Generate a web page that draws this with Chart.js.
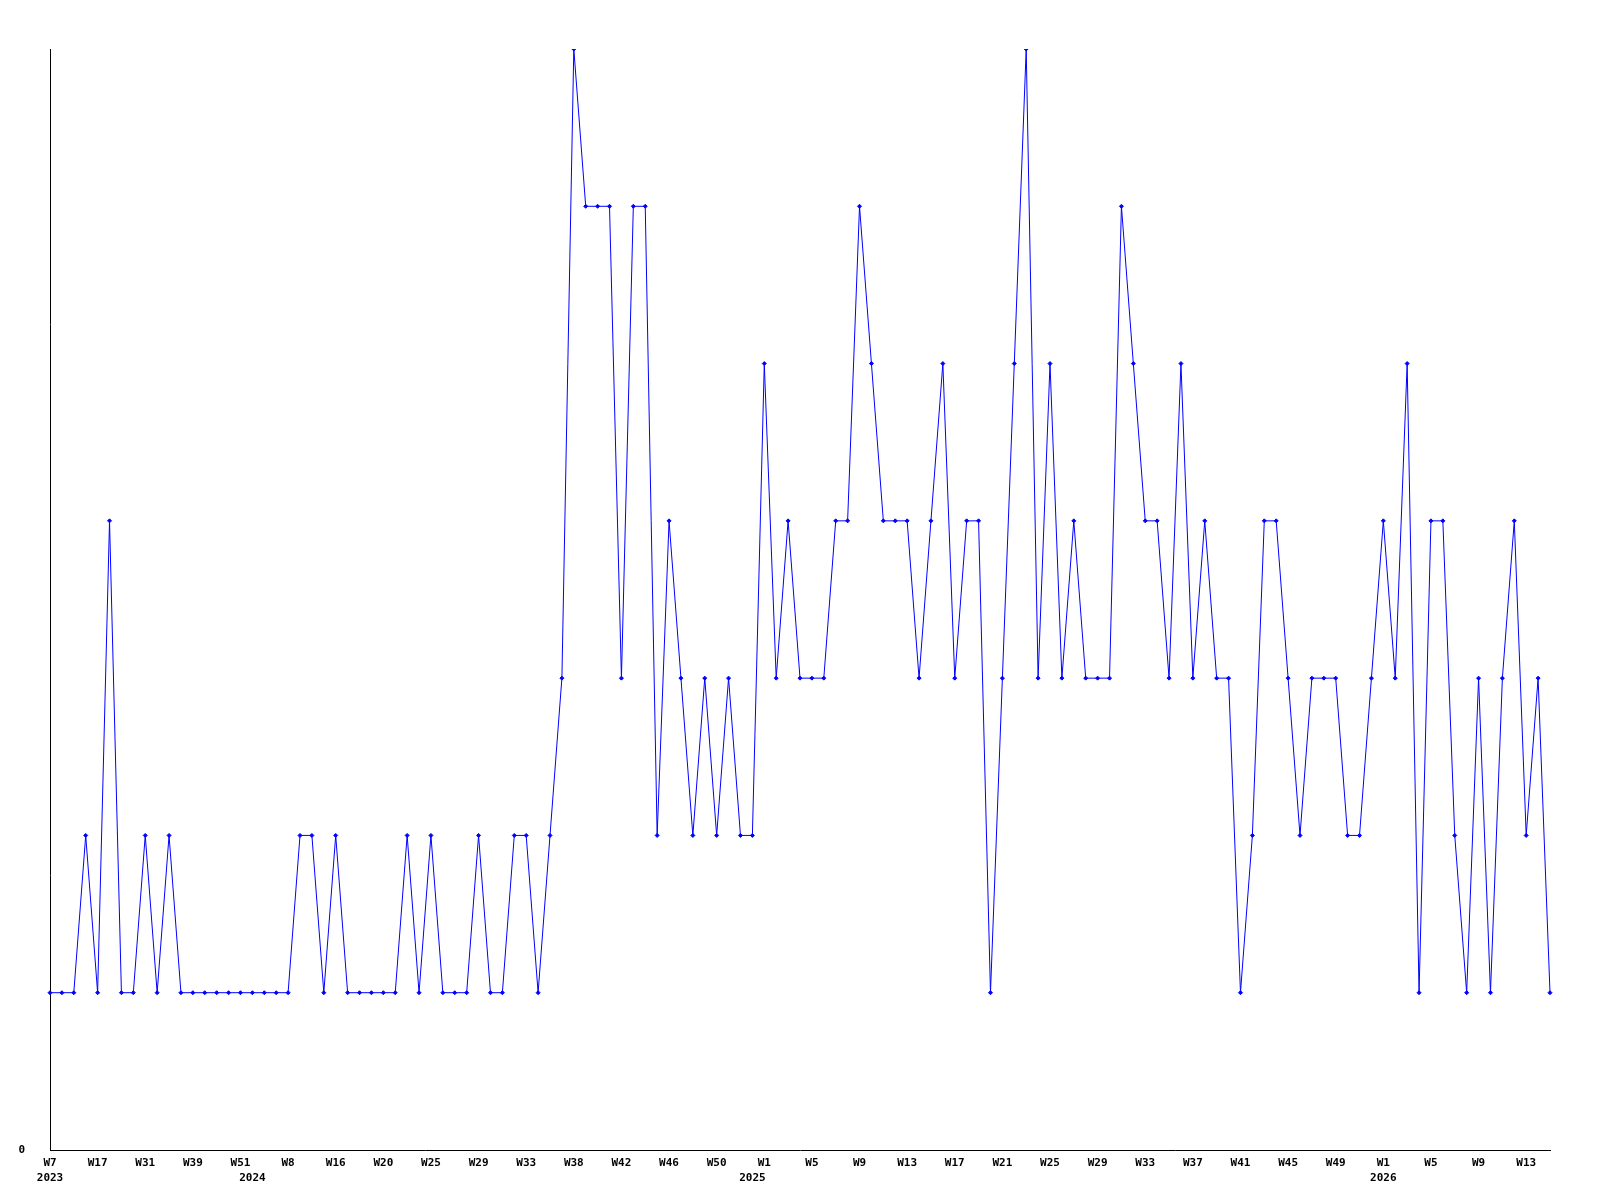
<!DOCTYPE html>
<html>
<head>
<meta charset="utf-8">
<script src="https://cdn.jsdelivr.net/npm/chart.js@4/dist/chart.umd.min.js"></script>
<style>
    html, body { margin: 0; padding: 0; background: #fff; }
    #wrap { width: 1600px; height: 1200px; position: relative; }
</style>
</head>
<body>
<div id="wrap"><canvas id="weeklyChart"></canvas></div>
<script>
// week of each point (only every 4th one is printed on the axis)
const weeks = [
    'W7', 'W9', 'W12', 'W14', 'W17', 'W19', 'W22', 'W26', 'W31', 'W33', 'W35', 'W37', 'W39', 'W42', 'W45', 'W48',
    'W51', 'W1', 'W3', 'W5', 'W8', 'W10', 'W12', 'W14', 'W16', 'W17', 'W18', 'W19', 'W20', 'W21', 'W22', 'W23',
    'W25', 'W26', 'W27', 'W28', 'W29', 'W30', 'W31', 'W32', 'W33', 'W34', 'W35', 'W37', 'W38', 'W39', 'W40', 'W41',
    'W42', 'W43', 'W44', 'W45', 'W46', 'W47', 'W48', 'W49', 'W50', 'W51', 'W52', 'W52', 'W1', 'W2', 'W3', 'W4',
    'W5', 'W6', 'W7', 'W8', 'W9', 'W10', 'W11', 'W12', 'W13', 'W14', 'W15', 'W16', 'W17', 'W18', 'W19', 'W20',
    'W21', 'W22', 'W23', 'W24', 'W25', 'W26', 'W27', 'W28', 'W29', 'W30', 'W31', 'W32', 'W33', 'W34', 'W35', 'W36',
    'W37', 'W38', 'W39', 'W40', 'W41', 'W42', 'W43', 'W44', 'W45', 'W46', 'W47', 'W48', 'W49', 'W50', 'W51', 'W52',
    'W1', 'W2', 'W3', 'W4', 'W5', 'W6', 'W7', 'W8', 'W9', 'W10', 'W11', 'W12', 'W13', 'W14', 'W15'
];

// point index under which each year name is printed
const yearTickIndex = [0, 17, 59, 112];
const yearNames = ['2023', '2024', '2025', '2026'];

const counts = [
    1, 1, 1, 2, 1, 4, 1, 1, 2, 1, 2, 1, 1, 1, 1, 1,
    1, 1, 1, 1, 1, 2, 2, 1, 2, 1, 1, 1, 1, 1, 2, 1,
    2, 1, 1, 1, 2, 1, 1, 2, 2, 1, 2, 3, 7, 6, 6, 6,
    3, 6, 6, 2, 4, 3, 2, 3, 2, 3, 2, 2, 5, 3, 4, 3,
    3, 3, 4, 4, 6, 5, 4, 4, 4, 3, 4, 5, 3, 4, 4, 1,
    3, 5, 7, 3, 5, 3, 4, 3, 3, 3, 6, 5, 4, 4, 3, 5,
    3, 4, 3, 3, 1, 2, 4, 4, 3, 2, 3, 3, 3, 2, 2, 3,
    4, 3, 5, 1, 4, 4, 2, 1, 3, 1, 3, 4, 2, 3, 1
];

const yMax = 7;
const tickEvery = 4;

document.addEventListener('DOMContentLoaded', () => {
    const ctx = document.getElementById('weeklyChart');
    const axisFont = { family: '"DejaVu Sans Mono", monospace', size: 11, weight: 'bold', lineHeight: 1.35 };

    new Chart(ctx, {
        type: 'line',
        data: {
            labels: weeks,
            datasets: [{
                data: counts,
                borderColor: '#0000ff',
                backgroundColor: '#0000ff',
                borderWidth: 1,
                tension: 0,
                pointStyle: 'rectRot',
                pointRadius: 2,
                pointBorderWidth: 1,
                fill: false
            }]
        },
        options: {
            responsive: true,
            maintainAspectRatio: false,
            animation: false,
            layout: { padding: { top: 49, right: 50, left: 0, bottom: 0 } },
            plugins: {
                legend: { display: false },
                tooltip: { enabled: false }
            },
            scales: {
                x: {
                    offset: false,
                    grid: { display: false },
                    border: { display: true, color: '#000', width: 1 },
                    afterFit: scale => { scale.height = 50; },
                    ticks: {
                        autoSkip: false,
                        maxRotation: 0,
                        minRotation: 0,
                        padding: -2,
                        color: '#000',
                        font: axisFont,
                        callback: function(value, index) {
                            const y = yearTickIndex.indexOf(index);
                            const week = index % tickEvery === 0 ? weeks[index] : '';
                            if (y >= 0) return [week, yearNames[y]];
                            return week;
                        }
                    }
                },
                y: {
                    min: 0,
                    max: yMax,
                    grid: { display: false, drawTicks: false },
                    border: { display: true, color: '#000', width: 1 },
                    afterFit: scale => { scale.width = 50; },
                    afterBuildTicks: scale => { scale.ticks = [{ value: 0 }]; },
                    ticks: {
                        padding: 25,
                        color: '#000',
                        font: axisFont
                    }
                }
            }
        }
    });
});
</script>
</body>
</html>
